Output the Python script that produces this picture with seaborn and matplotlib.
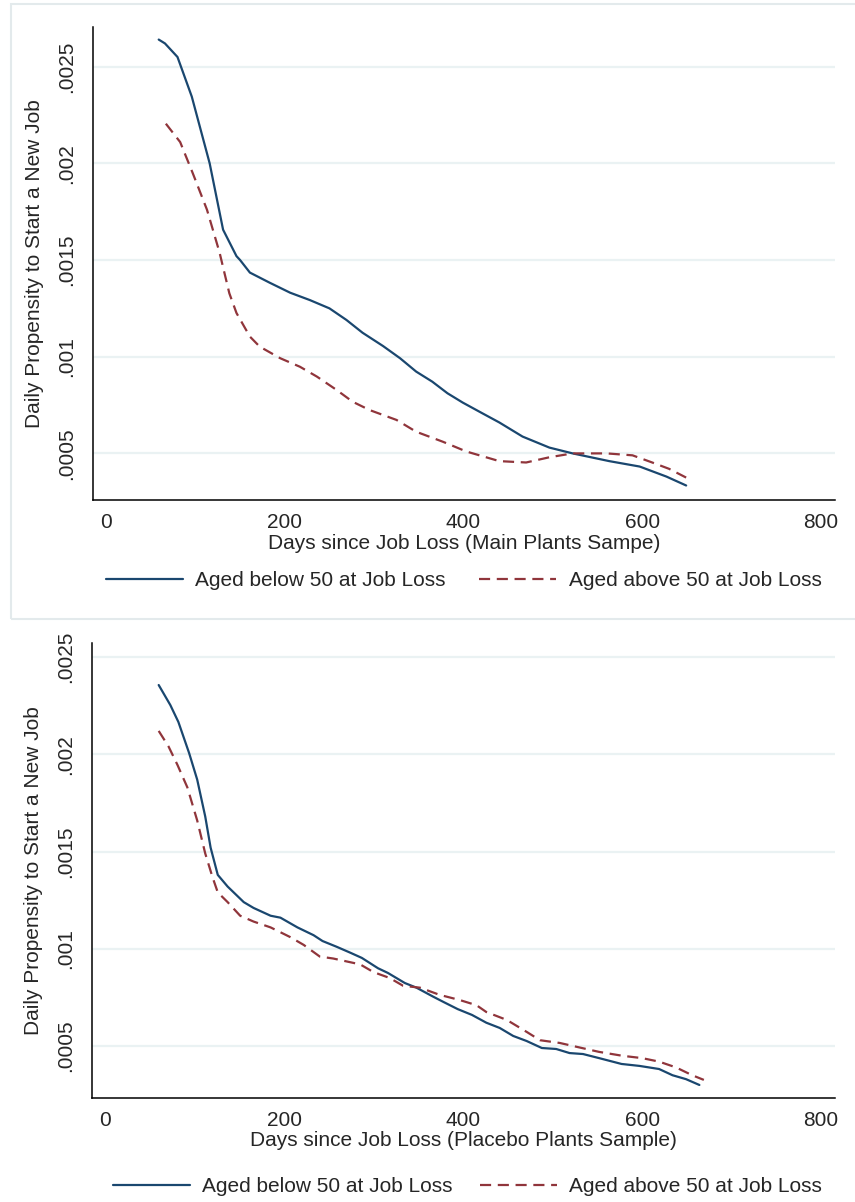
import numpy as np
import pandas as pd
import matplotlib
matplotlib.use("Agg")
import matplotlib.pyplot as plt
from matplotlib.patches import Rectangle
import seaborn as sns

# ---------------- data ----------------
main_below_days = [59, 66, 80, 96, 116, 131, 146, 150, 161, 183, 206, 228, 250, 269, 287, 310, 329, 347,
                   365, 382, 399, 420, 440, 466, 496, 522, 563, 597, 627, 649]
main_below_vals = [0.00264, 0.00262, 0.00255, 0.002345, 0.0020, 0.001657, 0.00152, 0.0015, 0.001435,
                   0.001383, 0.001331, 0.001293, 0.00125, 0.00119, 0.001124, 0.001055, 0.000992,
                   0.000923, 0.000871, 0.000811, 0.000763, 0.00071, 0.00066, 0.000587, 0.00053,
                   0.0005, 0.00046, 0.000432, 0.00038, 0.000334]

main_above_days = [67, 83, 97, 113, 127, 138, 146, 161, 172, 195, 217, 236, 258, 276, 295, 325, 347,
                   377, 403, 440, 470, 496, 522, 560, 589, 611, 630, 649]
main_above_vals = [0.002205, 0.00211, 0.00195, 0.00176, 0.00154, 0.001328, 0.001226, 0.001104,
                   0.001052, 0.000992, 0.000948, 0.000897, 0.000828, 0.000767, 0.000724, 0.000673,
                   0.000612, 0.00056, 0.00051, 0.00046, 0.000453, 0.00048, 0.0005, 0.0005, 0.00049,
                   0.000453, 0.00042, 0.000375]

placebo_below_days = [60, 73, 82, 94, 103, 112, 118, 126, 137, 155, 166, 185, 196, 215, 233, 243, 259,
                      274, 287, 305, 316, 335, 348, 367, 378, 394, 410, 426, 441, 456, 471, 488, 504,
                      519, 534, 552, 577, 597, 619, 634, 649, 664]
placebo_below_vals = [0.002356, 0.002253, 0.002166, 0.002006, 0.00187, 0.00168, 0.00152, 0.00138,
                      0.00132, 0.00124, 0.00121, 0.00117, 0.00116, 0.00111, 0.00107, 0.00104,
                      0.00101, 0.00098, 0.000953, 0.0009, 0.000876, 0.000824, 0.0008, 0.000753,
                      0.000727, 0.00069, 0.00066, 0.00062, 0.000593, 0.000552, 0.000526, 0.00049,
                      0.000485, 0.000464, 0.000459, 0.000438, 0.000408, 0.000398, 0.000382,
                      0.00035, 0.00033, 0.0003]

placebo_above_days = [60, 71, 81, 92, 103, 112, 120, 126, 137, 151, 166, 185, 207, 222, 240, 255, 285,
                      300, 318, 333, 352, 374, 396, 415, 426, 449, 471, 486, 508, 527, 552, 578, 600,
                      619, 638, 656, 669]
placebo_above_vals = [0.00212, 0.00204, 0.001945, 0.00183, 0.00166, 0.00149, 0.00137, 0.00129,
                      0.00124, 0.00117, 0.00114, 0.00111, 0.00106, 0.00102, 0.00096, 0.00095,
                      0.00092, 0.00088, 0.00085, 0.00081, 0.0008, 0.000763, 0.000737, 0.00071,
                      0.000675, 0.000634, 0.000573, 0.00053, 0.000516, 0.000496, 0.00047, 0.00045,
                      0.000438, 0.00042, 0.00039, 0.00035, 0.000326]

series_labels = ["Aged below 50 at Job Loss", "Aged above 50 at Job Loss"]
x_ticks = [0, 200, 400, 600, 800]
y_ticks = [0.0005, 0.001, 0.0015, 0.002, 0.0025]
y_tick_labels = [".0005", ".001", ".0015", ".002", ".0025"]
y_label = "Daily Propensity to Start a New Job"
x_label_top = "Days since Job Loss (Main Plants Sampe)"
x_label_bottom = "Days since Job Loss (Placebo Plants Sample)"

NAVY = "#1a476f"
MAROON = "#90353b"
GRID = "#eaf2f3"

sns.set_style("white")
plt.rcParams["font.family"] = ["Liberation Sans", "DejaVu Sans"]
FS = 15


def make_df(bd, bv, ad, av):
    return pd.concat([
        pd.DataFrame({"day": bd, "val": bv, "grp": series_labels[0]}),
        pd.DataFrame({"day": ad, "val": av, "grp": series_labels[1]}),
    ], ignore_index=True)


fig = plt.figure(figsize=(8.55, 12.02), dpi=100)
W, H = 855.0, 1202.0

# Top panel light frame
fig.patches.append(Rectangle((11 / W, 1 - 619 / H), (860 - 11) / W, (619 - 4) / H,
                             transform=fig.transFigure, fill=False,
                             edgecolor="#e3eaec", linewidth=1.5, zorder=0))

ax1 = fig.add_axes([93 / W, 1 - 500 / H, (835 - 93) / W, (500 - 27) / H])
ax2 = fig.add_axes([92 / W, 1 - 1098 / H, (835 - 92) / W, (1098 - 643) / H])

panels = [
    (ax1, make_df(main_below_days, main_below_vals, main_above_days, main_above_vals),
     (0.000259, 0.002705), x_label_top, 581, 100, 827, 1.6),
    (ax2, make_df(placebo_below_days, placebo_below_vals, placebo_above_days, placebo_above_vals),
     (0.000233, 0.002572), x_label_bottom, 1187, 110, 825, 1.3),
]

for ax, df, ylim, xl, leg_y, leg_l, leg_r, colsp in panels:
    sns.lineplot(data=df, x="day", y="val", hue="grp", style="grp",
                 palette={series_labels[0]: NAVY, series_labels[1]: MAROON},
                 dashes={series_labels[0]: "", series_labels[1]: (5, 3)},
                 linewidth=1.6, ax=ax, sort=True, estimator=None)
    ax.set_xlim(-14.5, 815.5)
    ax.set_ylim(*ylim)
    for yt in y_ticks:
        ax.axhline(yt, color=GRID, linewidth=1.6, zorder=0)
    ax.set_xticks(x_ticks)
    ax.set_xticklabels([str(t) for t in x_ticks], fontsize=FS)
    ax.set_yticks(y_ticks)
    ax.set_yticklabels(y_tick_labels, fontsize=FS, rotation=90, va="center")
    ax.tick_params(axis="x", direction="out", length=6, width=1.0, pad=3.5, color="black")
    ax.tick_params(axis="y", direction="out", length=6.5, width=1.0, pad=6, color="#333333")
    for s in ["top", "right"]:
        ax.spines[s].set_visible(False)
    for s in ["left", "bottom"]:
        ax.spines[s].set_color("black")
        ax.spines[s].set_linewidth(1.1)
    ax.set_xlabel(xl, fontsize=FS)
    ax.set_ylabel(y_label, fontsize=FS)
    ax.xaxis.set_label_coords(0.5, -0.072)
    ax.yaxis.set_label_coords(-0.066, 0.5)
    handles, labels = ax.get_legend_handles_labels()
    ax.get_legend().remove()
    fig.legend(handles, labels, loc="center", ncol=2, frameon=False, fontsize=FS,
               bbox_to_anchor=((leg_l + leg_r) / 2 / W, 1 - leg_y / H),
               handlelength=3.7, handletextpad=0.6, columnspacing=colsp,
               borderaxespad=0, borderpad=0)

fig.savefig("out.png", dpi=100, facecolor="white")
